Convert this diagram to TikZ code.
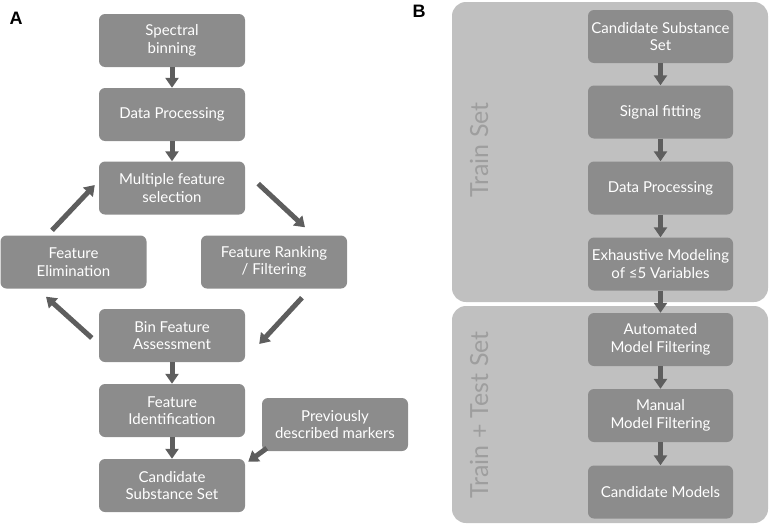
\documentclass[tikz,border=0pt]{standalone}
\usepackage{fontspec}
\setmainfont{Lato}
\setsansfont{Liberation Sans}
\usetikzlibrary{arrows.meta,calc}
\definecolor{boxgray}{RGB}{140,140,140}
\definecolor{bggray}{RGB}{192,192,192}
\definecolor{arrgray}{RGB}{94,94,94}
\definecolor{lblgray}{RGB}{158,158,158}
\tikzset{
  stepbox/.style={fill=boxgray, rounded corners=6pt, minimum width=146pt, minimum height=53pt,
    text=white, align=center, inner sep=0pt, font=\fontsize{15pt}{17.5pt}\selectfont},
  arr/.style={draw=arrgray, line width=5pt, -{Triangle[width=13pt,length=10pt]}},
  panel/.style={fill=bggray, rounded corners=14pt},
  setlabel/.style={text=lblgray, rotate=90, font=\fontsize{25pt}{28pt}\selectfont},
  plabel/.style={font=\sffamily\bfseries\fontsize{18pt}{20pt}\selectfont, inner sep=0pt}
}
\begin{document}
\begin{tikzpicture}[x=1pt,y=-1pt]
\useasboundingbox (0,0) rectangle (769,525);
% Panel A
\node[plabel] (la) at (16,18) {A};
\node[stepbox] (sb) at (172,40.5) {Spectral\\binning};
\node[stepbox] (dp) at (172,114.5) {Data Processing};
\node[stepbox] (mfs) at (172,188) {Multiple feature\\selection};
\node[stepbox] (fe) at (73.5,262) {Feature\\Elimination};
\node[stepbox] (fr) at (274,262) {Feature Ranking\\/ Filtering};
\node[stepbox] (bfa) at (172,335.5) {Bin Feature\\Assessment};
\node[stepbox] (fi) at (172,410.5) {Feature\\Identification};
\node[stepbox] (css) at (172,485.5) {Candidate\\Substance Set};
\node[stepbox] (pdm) at (335,424.5) {Previously\\described markers};
\draw[arr] (sb) -- (dp);
\draw[arr] (dp) -- (mfs);
\draw[arr] ([shift={(13,-31)}]mfs.south east) -- ([shift={(31,-8)}]fr.north);
\draw[arr] ([shift={(28,9)}]fr.south) -- ([shift={(14,8.5)}]bfa.east);
\draw[arr] ([shift={(-7,2.5)}]bfa.west) -- ([shift={(-27.5,8)}]fe.south);
\draw[arr] ([shift={(-21.5,-5)}]fe.north) -- ([shift={(-4,-3)}]mfs.west);
\draw[arr] (bfa) -- (fi);
\draw[arr] (fi) -- (css);
\draw[arr] ([shift={(5,-3)}]pdm.south west) -- ([shift={(3,3)}]css.north east);
% Panel B
\node[plabel] (lb) at (419,11) {B};
\path[panel] (452,2) rectangle (768,302);
\path[panel] (452,306) rectangle (768,523);
\node[setlabel] (ts) at (479,150) {Train Set};
\node[setlabel] (tts) at (479,415) {Train + Test Set};
\node[stepbox, minimum width=145pt] (c1) at (660.5,36.5) {Candidate Substance\\Set};
\node[stepbox, minimum width=145pt] (c2) at (660.5,112) {Signal fitting};
\node[stepbox, minimum width=145pt] (c3) at (660.5,188) {Data Processing};
\node[stepbox, minimum width=145pt] (c4) at (660.5,264) {Exhaustive Modeling\\of ≤5 Variables};
\node[stepbox, minimum width=145pt] (c5) at (660.5,339.5) {Automated\\Model Filtering};
\node[stepbox, minimum width=145pt] (c6) at (660.5,415.5) {Manual\\Model Filtering};
\node[stepbox, minimum width=145pt] (c7) at (660.5,492) {Candidate Models};
\draw[arr] (c1) -- (c2);
\draw[arr] (c2) -- (c3);
\draw[arr] (c3) -- (c4);
\draw[arr] (c4) -- (c5);
\draw[arr] (c5) -- (c6);
\draw[arr] (c6) -- (c7);
\end{tikzpicture}
\end{document}
